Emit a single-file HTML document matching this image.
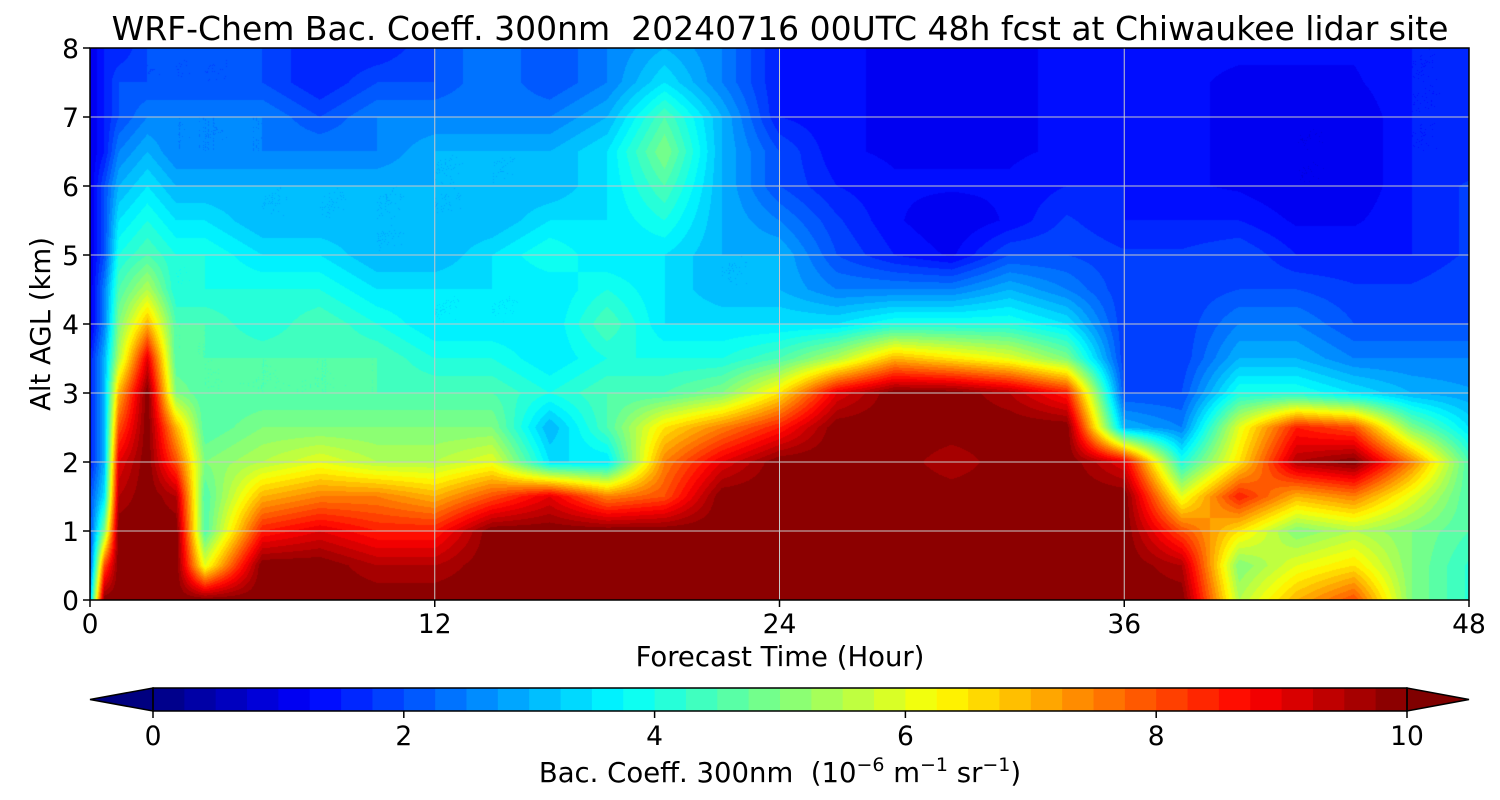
<!DOCTYPE html>
<html><head><meta charset="utf-8">
<style>
html,body{margin:0;padding:0;background:#fff;}
#wrap{position:relative;width:1500px;height:800px;overflow:hidden;font-family:"DejaVu Sans","Liberation Sans",sans-serif;}
#heat{position:absolute;left:90px;top:48px;}
svg{position:absolute;left:0;top:0;font-family:"DejaVu Sans","Liberation Sans",sans-serif;}
</style></head>
<body>
<div id="wrap">
<canvas id="heat" width="1379" height="552"></canvas>
<svg id="svg" width="1500" height="800"></svg>
</div>
<script>
const hours = [0,0.5,1,2,3,4,6,8,10,12,14,16,18,20,22,24,26,28,30,32,34,36,38,40,42,44,46,48];
const alts = [0,0.5,1,1.5,2,2.5,3,3.5,4,4.5,5,5.5,6,6.5,7,7.5,8];
// values[i] = column at hours[i], from alt 0 upward
const values = [
[3,2,2,2,1.5,1.5,1.5,1.5,1,1,1,1,1,1,1,1,1],
[10,8,5,3.5,3,3,3,3,2.5,2.5,2,2,2,1.5,1.5,1.5,1.5],
[10,10,10,9.5,9,8,7,5.5,5,4.5,4,3.5,3,2.5,2,2,1.5],
[10,10,10,10,10,10,10,9,7,5.5,4.5,4,3.5,3,2.5,2,2],
[10,10,10,9.5,8,7,5,4.5,4.5,4,4,3.5,3,2.5,2.5,2,2],
[10,6,4.5,4.5,5,4.5,4.5,4.5,4.5,4,4,3.5,3,2.5,2.5,2,2],
[10,10,8.5,7,5.5,5,4.5,4.5,4,4,3.5,3,3,2.5,2.5,2,2],
[10,10,9,7.5,6,5,4.5,4.5,4.5,4,3.5,3,3,2.5,2,1.5,1.5],
[10,9.5,8.5,7.5,5.5,5,4.5,4.5,4,3.5,3,3,3,2.5,2.5,2,1.5],
[10,9.5,8.5,7,5.5,5,4.5,4,3.5,3.5,3,3,3,3,2.5,2,2],
[10,10,10,8,6,5,4.5,4,3.5,3.5,3.5,3,3,3,2.5,2.5,2.5],
[10,10,10,9,3.5,3,4,3.5,3.5,3.5,4,3.5,3,3,2.5,2,2],
[10,10,10,7.5,3.5,4.5,4.5,4,4.5,4,3.5,3.5,3.5,3.5,3,2.5,2.5],
[10,10,10,8,7.5,6.5,4.5,4,3.5,3.5,3.5,4,4.5,5,4.5,3.5,3],
[10,10,10,10,9,7.5,5,4,3.5,3,3,3,3,3,3,2.5,2.5],
[10,10,10,10,10,8.5,6.5,4.5,3.5,3,3,2.5,2,2,1.5,1.5,1.5],
[10,10,10,10,10,10,9,5.5,3.5,2.5,2,1.8,1.5,1.3,1.3,1.3,1.3],
[10,10,10,10,10,10,10,7,4,2.5,1.5,1.3,1.3,1.2,1.2,1.2,1.2],
[10,10,10,10,9.5,10,10,6.5,4,2.5,1.2,1,1.3,1.2,1.2,1.2,1.1],
[10,10,10,10,10,10,9.5,6,4,3,2,1.3,1.3,1.2,1.2,1.2,1.2],
[10,10,10,10,10,10,8.5,5,3.5,2.5,2,1.8,1.5,1.3,1.3,1.3,1.3],
[10,10,10,10,9,3,2,1.8,1.8,1.8,1.8,1.5,1.5,1.3,1.3,1.3,1.3],
[10,9.5,8,6,4,2.5,2,1.8,1.8,1.8,1.8,1.5,1.3,1.3,1.3,1.3,1.3],
[5.5,5,6.5,8.5,6.5,6,4,3,2.5,2,2,1.5,1.2,1.2,1.2,1.2,1.3],
[7,6,5,7,9.5,8.5,4,3,2.5,2,1.5,1.2,1,1,1,1.2,1.3],
[8,6.5,5.5,7.5,10,8,3.5,2.5,2,1.8,1.5,1.2,1,1,1,1.2,1.3],
[5,5,5,6,7.5,5,3,2.5,2,1.8,1.5,1.5,1.5,1.5,1.5,1.5,1.5],
[4.2,4.2,4.5,4.5,4.5,3.5,2.8,2.5,2,2,1.8,1.8,1.8,1.5,1.5,1.5,1.5]
];
const xTicks = [0,12,24,36,48];
const yTicks = [0,1,2,3,4,5,6,7,8];
const cbTicks = [0,2,4,6,8,10];

const X0=90,X1=1469,Y0=600,Y1=48;
const xs = h => X0 + (h-0)/(48-0)*(X1-X0);
const ys = a => Y0 - a/8*(Y0-Y1);
const CB0=153,CB1=1407,CBT=688,CBB=711;
const cbx = v => CB0 + v/10*(CB1-CB0);

function jet(t){
  t=Math.max(0,Math.min(1,t));
  const c=v=>Math.round(255*Math.max(0,Math.min(1,v)));
  return [c(1.5-Math.abs(4*t-3)),c(1.5-Math.abs(4*t-2)),c(1.5-Math.abs(4*t-1))];
}
function levelColor(v){
  let k=Math.floor(v/0.25); if(k<0)k=0; if(k>39)k=39;
  return jet((k+0.5)/40);
}
function interp(h,a){
  let i=0; while(i<hours.length-2 && h>hours[i+1]) i++;
  let j=0; while(j<alts.length-2 && a>alts[j+1]) j++;
  const fx=(h-hours[i])/(hours[i+1]-hours[i]);
  const fy=(a-alts[j])/(alts[j+1]-alts[j]);
  const v00=values[i][j],v10=values[i+1][j],v01=values[i][j+1],v11=values[i+1][j+1];
  return v00*(1-fx)*(1-fy)+v10*fx*(1-fy)+v01*(1-fx)*fy+v11*fx*fy;
}
const cv=document.getElementById('heat'),ctx=cv.getContext('2d');
const W=cv.width,H=cv.height,img=ctx.createImageData(W,H);
for(let py=0;py<H;py++){
  const a=8*(1-(py+0.5)/H);
  for(let px=0;px<W;px++){
    const h=48*(px+0.5)/W;
    const col=levelColor(interp(h,a));
    const o=(py*W+px)*4;
    img.data[o]=col[0];img.data[o+1]=col[1];img.data[o+2]=col[2];img.data[o+3]=255;
  }
}
ctx.putImageData(img,0,0);

const svg=document.getElementById('svg'),NS='http://www.w3.org/2000/svg';
function el(tag,attrs,parent){const e=document.createElementNS(NS,tag);for(const k in attrs)e.setAttribute(k,attrs[k]);(parent||svg).appendChild(e);return e;}
function txt(s,attrs){const e=el('text',attrs);e.textContent=s;return e;}

xTicks.forEach(t=>{
  const g=el('line',{x1:xs(t),x2:xs(t),y1:Y1,y2:Y0,stroke:'#c8c8c8','stroke-width':1});
  
  
});
yTicks.forEach(t=>{
  const g=el('line',{x1:X0,x2:X1,y1:ys(t),y2:ys(t),stroke:'#c8c8c8','stroke-width':1});
  
  
});
const fr=el('rect',{x:X0,y:Y1,width:X1-X0,height:Y0-Y1,fill:'none',stroke:'#000','stroke-width':1.5});


xTicks.forEach(t=>{
  el('line',{x1:xs(t),x2:xs(t),y1:Y0,y2:Y0+7,stroke:'#000','stroke-width':1.5});
  const l=txt(String(t),{x:xs(t),y:Y0+33,'text-anchor':'middle','font-size':26.5,fill:'#000'});
  
  
});
yTicks.forEach(t=>{
  el('line',{x1:X0-7,x2:X0,y1:ys(t),y2:ys(t),stroke:'#000','stroke-width':1.5});
  const l=txt(String(t),{x:X0-11,y:ys(t)+10,'text-anchor':'end','font-size':26.5,fill:'#000'});
  
  
});
const title=txt('WRF-Chem Bac. Coeff. 300nm\u00a0 20240716 00UTC 48h fcst at Chiwaukee lidar site',{x:780,y:40,'text-anchor':'middle','font-size':33,fill:'#000'});


const xl=txt('Forecast Time (Hour)',{x:780,y:666,'text-anchor':'middle','font-size':27.5,fill:'#000'});


const yl=txt('Alt AGL (km)',{x:0,y:0,'text-anchor':'middle','font-size':27.5,fill:'#000',transform:'translate(50,324) rotate(-90)'});



for(let k=0;k<40;k++){
  const c=jet((k+0.5)/40);
  const r=el('rect',{x:cbx(k*0.25),y:CBT,width:cbx(0.25)-cbx(0)+0.6,height:CBB-CBT,fill:`rgb(${c})`});
  
  
}
const cl=jet(0),ch=jet(1);
const tl=el('polygon',{points:`${CB0},${CBT} ${CB0},${CBB} 90,${(CBT+CBB)/2}`,fill:`rgb(${cl})`,stroke:'#000','stroke-width':1.5});


const tr=el('polygon',{points:`${CB1},${CBT} ${CB1},${CBB} 1469,${(CBT+CBB)/2}`,fill:`rgb(${ch})`,stroke:'#000','stroke-width':1.5});


el('rect',{x:CB0,y:CBT,width:CB1-CB0,height:CBB-CBT,fill:'none',stroke:'#000','stroke-width':1.5});
cbTicks.forEach(t=>{
  el('line',{x1:cbx(t),x2:cbx(t),y1:CBB,y2:CBB+7,stroke:'#000','stroke-width':1.5});
  const l=txt(String(t),{x:cbx(t),y:CBB+34,'text-anchor':'middle','font-size':26.5,fill:'#000'});
  
  
});
const cbl=el('text',{x:780,y:782,'text-anchor':'middle','font-size':27.5,fill:'#000'});


cbl.innerHTML='Bac. Coeff. 300nm\u00a0 (10<tspan dy="-11" font-size="19">−6</tspan><tspan dy="11"> m</tspan><tspan dy="-11" font-size="19">−1</tspan><tspan dy="11"> sr</tspan><tspan dy="-11" font-size="19">−1</tspan><tspan dy="11">)</tspan>';
</script>
</body></html>
